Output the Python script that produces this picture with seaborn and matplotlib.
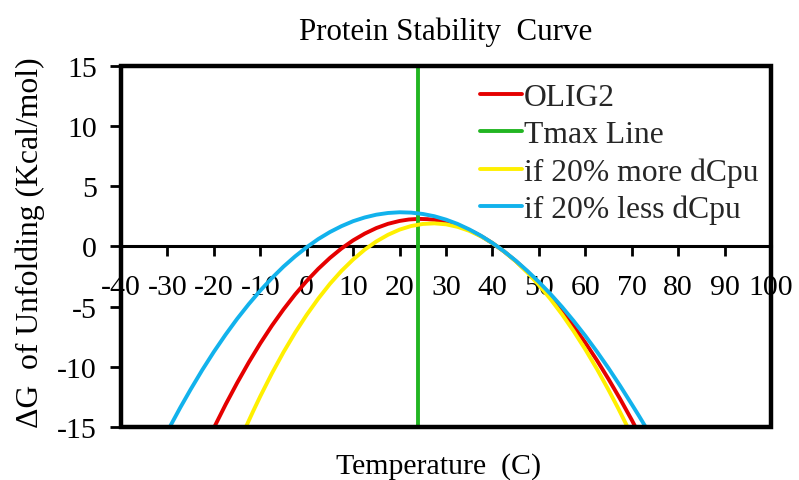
import numpy as np
import pandas as pd
import matplotlib
matplotlib.use("Agg")
import matplotlib.pyplot as plt
from matplotlib.lines import Line2D
from matplotlib.patches import Rectangle
import seaborn as sns

# Free energy of unfolding (kcal/mol) versus temperature (C)
olig2_temp = [-19.9, -17.45, -15, -12.5, -10, -7.5, -5, -2.5, 0, 2.5, 5, 7.5, 10, 12.5, 15, 17.5, 20, 22, 24,
              26, 28, 30, 32, 34, 36, 38, 40, 42.5, 45, 47.5, 50, 52.5, 55, 57.5, 60, 62.5, 65, 67.5, 70, 70.8]
olig2_dg = [-15.0, -13.12, -11.35, -9.65, -8.06, -6.59, -5.24, -4.00, -2.88, -1.87, -0.97, -0.18, 0.49,
            1.05, 1.51, 1.86, 2.10, 2.22, 2.27, 2.25, 2.17, 2.01, 1.79, 1.51, 1.16, 0.74, 0.26, -0.43,
            -1.22, -2.11, -3.09, -4.17, -5.35, -6.63, -8.00, -9.46, -11.02, -12.67, -14.41, -15.0]

more_temp = [-13.1, -11.55, -10, -7.5, -5, -2.5, 0, 2.5, 5, 7.5, 10, 12.5, 15, 17.5, 20, 22.5, 25, 27.5,
             30, 32.5, 35, 37.5, 40, 42.5, 45, 47.5, 50, 52.5, 55, 57.5, 60, 62.5, 65, 67.05, 69.1]
more_dg = [-15.0, -13.70, -12.45, -10.55, -8.79, -7.17, -5.69, -4.34, -3.12, -2.04, -1.10, -0.28, 0.40,
           0.95, 1.38, 1.68, 1.85, 1.90, 1.82, 1.61, 1.28, 0.83, 0.26, -0.43, -1.24, -2.17, -3.22,
           -4.38, -5.66, -7.05, -8.56, -10.18, -11.92, -13.42, -15.0]

less_temp = [-29.5, -27.25, -25, -22.5, -20, -17.5, -15, -12.5, -10, -7.5, -5, -2.5, 0, 2.5, 5, 7.5, 10,
             12.5, 15, 17.5, 20, 22.5, 25, 27.5, 30, 32.5, 35, 37.5, 40, 42.5, 45, 47.5, 50, 52.5, 55,
             57.5, 60, 62.5, 65, 67.5, 70, 71.5, 73.0]
less_dg = [-15.0, -13.40, -11.88, -10.27, -8.76, -7.35, -6.03, -4.81, -3.68, -2.64, -1.69, -0.84, -0.08,
           0.60, 1.18, 1.67, 2.08, 2.39, 2.62, 2.76, 2.82, 2.79, 2.68, 2.49, 2.21, 1.85, 1.40, 0.88,
           0.27, -0.42, -1.19, -2.04, -2.96, -3.96, -5.04, -6.20, -7.43, -8.74, -10.12, -11.58,
           -13.11, -14.04, -15.0]

tmax = 24

series_names = ["OLIG2", "Tmax Line", "if 20% more dCpu", "if 20% less dCpu"]
series_colors = ["#E50000", "#22B522", "#FFF000", "#12B2EC"]

x_ticks = list(range(-40, 101, 10))
y_ticks = list(range(-15, 16, 5))

sns.set_theme(style="white")
plt.rcParams["font.family"] = ["Liberation Serif", "DejaVu Serif"]
plt.rcParams["axes.unicode_minus"] = False

fs_tick = 21.5
fs_big = 22.8
lw = 2.8

fig = plt.figure(figsize=(7.99, 4.81), dpi=100)
ax = fig.add_axes([121 / 799, 1 - 428 / 481, 650 / 799, (428 - 66.5) / 481])

curves = {
    "OLIG2": (olig2_temp, olig2_dg),
    "if 20% more dCpu": (more_temp, more_dg),
    "if 20% less dCpu": (less_temp, less_dg),
}
color_of = dict(zip(series_names, series_colors))
z_of = {"OLIG2": 2.0, "if 20% more dCpu": 2.2, "if 20% less dCpu": 2.3}

for name, (tt, gg) in curves.items():
    df = pd.DataFrame({"Temperature": tt, "dG": gg})
    sns.lineplot(data=df, x="Temperature", y="dG", ax=ax, color=color_of[name],
                 linewidth=lw, sort=False, estimator=None, zorder=z_of[name])

ax.axvline(tmax, color=color_of["Tmax Line"], linewidth=lw, zorder=2.1)

ax.set_xlim(-40, 100)
ax.set_ylim(-15, 15)
ax.set_xticks(x_ticks)
ax.set_yticks(y_ticks)
ax.set_xticklabels([str(v) for v in x_ticks])
ax.set_yticklabels([str(v) for v in y_ticks])
ax.set_xlabel("")
ax.set_ylabel("")

# horizontal axis crosses at zero; plot area gets a heavy border
for s in ["left", "right", "top"]:
    ax.spines[s].set_visible(False)
ax.spines["bottom"].set_position(("data", 0))
ax.spines["bottom"].set_linewidth(2.2)
ax.spines["bottom"].set_color("black")
ax.spines["bottom"].set_zorder(1.5)
ax.add_patch(Rectangle((0, 0), 1, 1, transform=ax.transAxes, fill=False,
                       edgecolor="black", linewidth=3.2, clip_on=False, zorder=3))

ax.tick_params(axis="x", direction="out", length=7, width=2.0, color="black",
               pad=13, labelsize=fs_tick, labelcolor="black", bottom=True)
ax.tick_params(axis="y", direction="out", length=8, width=2.0, color="black",
               pad=9.5, labelsize=fs_tick, labelcolor="black", left=True)

fig.text(446 / 799, 1 - 40 / 481, "Protein Stability  Curve", ha="center", va="baseline",
         fontsize=22.3, color="black")
fig.text(439 / 799, 1 - 474 / 481, "Temperature  (C)", ha="center", va="baseline",
         fontsize=fs_tick, color="black")
fig.text(30 / 799, 1 - 243 / 481, "ΔG  of Unfolding (Kcal/mol)", ha="center", va="center",
         rotation=90, fontsize=fs_big, color="black")

handles = [Line2D([], [], color=c, linewidth=lw) for c in series_colors]
ax.legend(handles, series_names, loc="upper left", bbox_to_anchor=(480 / 799, 1 - 84 / 481),
          bbox_transform=fig.transFigure, frameon=False, fontsize=fs_big, borderpad=0,
          borderaxespad=0, handlelength=1.33, handletextpad=0.05, labelspacing=0.25)

fig.savefig("out.png", dpi=100)
